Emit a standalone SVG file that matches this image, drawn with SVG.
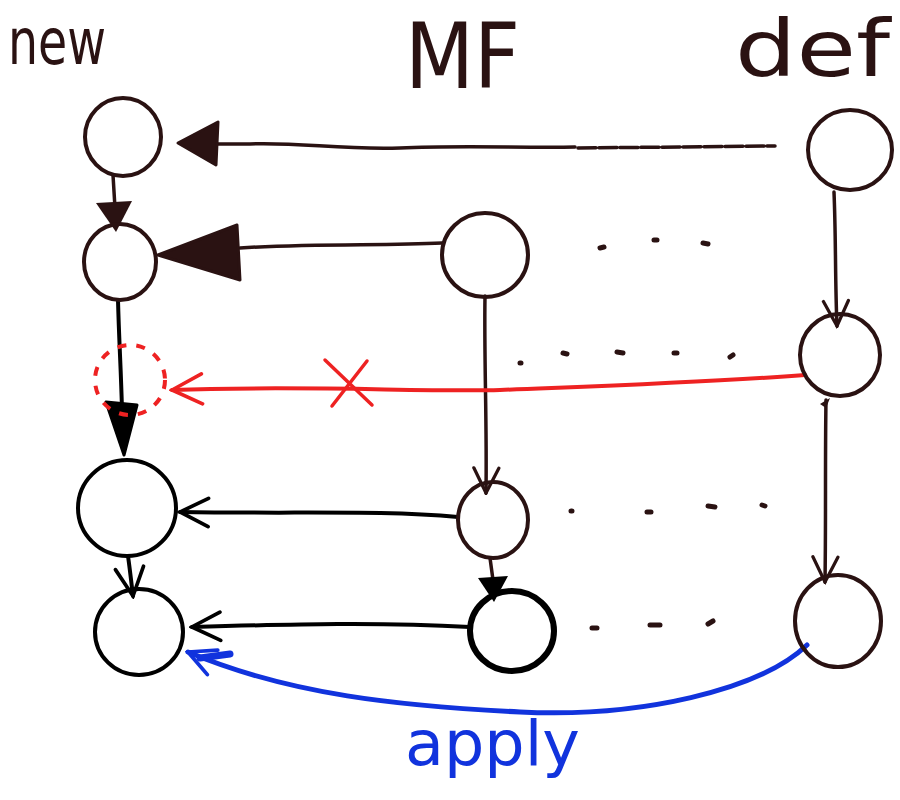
<svg xmlns="http://www.w3.org/2000/svg" width="900" height="800" viewBox="0 0 900 800">
<style>
.n{fill:none;stroke:#2a1212;stroke-width:4;stroke-linejoin:round}
.nb{fill:none;stroke:#000;stroke-width:4}
.c{fill:none;stroke:#2a1212;stroke-width:3.5;stroke-linecap:round}
.k{fill:none;stroke:#000;stroke-width:4;stroke-linecap:round}
.dot{fill:none;stroke:#2a1212;stroke-width:5;stroke-linecap:round}
.lbl{font-family:"DejaVu Sans",sans-serif;fill:#2a1212}
</style>
<defs>
<marker id="vee" viewBox="0 0 12 12" refX="11" refY="6" markerWidth="30" markerHeight="30" markerUnits="userSpaceOnUse" orient="auto">
<path d="M1,1 L11,6 L1,11" fill="none" stroke="#2a1212" stroke-width="1.3" stroke-linecap="round"/>
</marker>
<marker id="veek" viewBox="0 0 12 12" refX="11" refY="6" markerWidth="34" markerHeight="34" markerUnits="userSpaceOnUse" orient="auto">
<path d="M1,1 L11,6 L1,11" fill="none" stroke="#000" stroke-width="1.3" stroke-linecap="round"/>
</marker>
<marker id="veer" viewBox="0 0 12 12" refX="11" refY="6" markerWidth="36" markerHeight="36" markerUnits="userSpaceOnUse" orient="auto">
<path d="M1,1 L11,6 L1,11" fill="none" stroke="#ee2222" stroke-width="1.2" stroke-linecap="round"/>
</marker>
<marker id="veeb" viewBox="0 0 12 12" refX="11" refY="6" markerWidth="32" markerHeight="32" markerUnits="userSpaceOnUse" orient="auto">
<path d="M1,1 L11,6 L1,11" fill="none" stroke="#1133dd" stroke-width="1.4" stroke-linecap="round"/>
</marker>
</defs>
<rect width="900" height="800" fill="#fff"/>

<g id="headers">
<text class="lbl" x="8" y="64" font-size="64" textLength="98" lengthAdjust="spacingAndGlyphs">new</text>
<text class="lbl" x="405" y="88" font-size="90" textLength="115" lengthAdjust="spacingAndGlyphs">MF</text>
<text class="lbl" x="735" y="76" font-size="78" textLength="155" lengthAdjust="spacingAndGlyphs">def</text>
</g>

<g id="connectors">
<!-- def1 -> new1 -->
<path class="c" d="M575,147 C520,148 460,145 400,148 C340,150 300,142 250,144 L215,144"/>
<path class="c" d="M578,148 L775,146" stroke-dasharray="18,3"/>
<path d="M178,143 L218,122 L216,165 Z" fill="#2a1212" stroke="#2a1212" stroke-width="3" stroke-linejoin="round"/>
<!-- new1 -> new2 -->
<path class="c" d="M113,175 L115,208"/>
<path d="M96,203 L132,201 L116,232 Z" fill="#2a1212"/>
<!-- MF1 -> new2 -->
<path class="c" d="M442,243 C380,246 320,243 240,248"/>
<path d="M158,255 L237,225 L240,280 Z" fill="#2a1212" stroke="#2a1212" stroke-width="3" stroke-linejoin="round"/>
<!-- def1 -> def2 -->
<path class="c" d="M834,192 C836,240 835,280 837,326" marker-end="url(#vee)"/>
<!-- MF1 -> MF2 -->
<path class="c" d="M485,296 C484,360 487,420 486,493" marker-end="url(#vee)"/>
<!-- def2 -> def3 -->
<path class="c" d="M826,400 C825,460 826,520 825,582" marker-end="url(#vee)"/>
<path d="M820,404 L830,398 L826,408 Z" fill="#2a1212"/>
<!-- new2 -> new3 -->
<path class="k" d="M118,300 C119,340 121,370 122,410"/>
<path d="M106,402 L137,405 L124,455 Z" fill="#000" stroke="#000" stroke-width="3" stroke-linejoin="round"/>
<!-- MF2 -> new3 -->
<path class="k" d="M458,517 C380,510 300,514 180,512" marker-end="url(#veek)"/>
<!-- new3 -> new4 -->
<path class="k" d="M128,556 C130,570 131,580 133,596" marker-end="url(#veek)"/>
<!-- MF2 -> MF3 -->
<path class="c" d="M490,558 L493,580"/>
<path d="M478,578 L508,576 L494,602 Z" fill="#000"/>
<!-- MF3 -> new4 -->
<path class="k" d="M470,627 C380,622 300,624 192,627" marker-end="url(#veek)"/>
<!-- red: def2 -> new (removed) -->
<path d="M805,375 C700,383 600,386 500,390 C420,392 300,385 172,390" fill="none" stroke="#ee2222" stroke-width="4" stroke-linecap="round" marker-end="url(#veer)"/>
<path d="M325,360 L372,405 M367,361 L332,406" fill="none" stroke="#ee2222" stroke-width="3.5" stroke-linecap="round"/>
<!-- blue apply: def3 -> new4 -->
<path d="M807,645 C760,690 640,718 520,712 C400,706 290,695 188,652" fill="none" stroke="#1133dd" stroke-width="5" stroke-linecap="round" marker-end="url(#veeb)"/>
<path d="M200,658 L230,654" fill="none" stroke="#1133dd" stroke-width="7" stroke-linecap="round"/>
<text x="405" y="765" font-family="DejaVu Sans, sans-serif" font-size="62" fill="#1133dd" textLength="175" lengthAdjust="spacingAndGlyphs">apply</text>
</g>

<g id="dots">
<path class="dot" d="M600,248 l4,-1 M654,240 l3,0 M703,243 l5,1"/>
<path class="dot" d="M520,363 l1,0 M563,353 l4,1 M617,352 l6,1 M674,353 l3,0 M730,357 l3,-2"/>
<path class="dot" d="M571,511 l1,0 M647,512 l4,0 M708,506 l7,1 M762,505 l3,1"/>
<path class="dot" d="M592,628 l5,0 M650,625 l10,0 M708,624 l5,-3"/>
</g>

<g id="new1"><ellipse class="n" cx="123" cy="137" rx="38" ry="39"/></g>
<g id="new2"><ellipse class="n" cx="120" cy="262" rx="36" ry="38"/></g>
<g id="newRemoved"><circle cx="130" cy="380" r="35" fill="none" stroke="#ee2222" stroke-width="4" stroke-dasharray="9,10"/></g>
<g id="new3"><ellipse class="nb" cx="127" cy="508" rx="49" ry="48"/></g>
<g id="new4"><ellipse class="nb" cx="139" cy="632" rx="44" ry="43"/></g>
<g id="MF1"><ellipse class="n" cx="485" cy="255" rx="43" ry="42"/></g>
<g id="MF2"><ellipse class="n" cx="493" cy="520" rx="35" ry="38"/></g>
<g id="MF3"><ellipse cx="512" cy="631" rx="42" ry="40" fill="none" stroke="#000" stroke-width="6"/></g>
<g id="def1"><ellipse class="n" cx="850" cy="150" rx="42" ry="40"/></g>
<g id="def2"><ellipse class="n" cx="840" cy="355" rx="40" ry="41"/></g>
<g id="def3"><ellipse class="n" cx="838" cy="621" rx="43" ry="46"/></g>
</svg>
